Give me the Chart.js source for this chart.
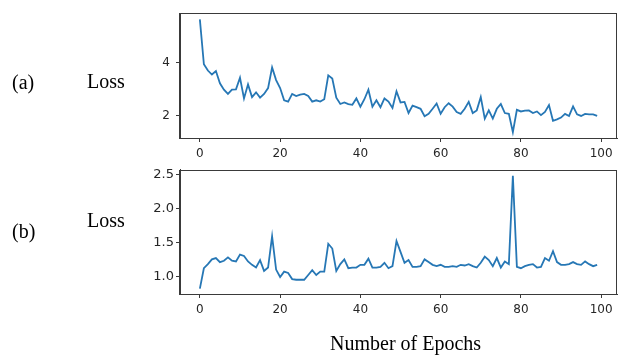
<!DOCTYPE html>
<html>
<head>
<meta charset="utf-8">
<script src="https://cdn.jsdelivr.net/npm/chart.js@4"></script>
<style>
  html, body { margin:0; padding:0; background:#fff; width:624px; height:356px; overflow:hidden; }
  #wrap { position:relative; width:624px; height:356px; }
  canvas { position:absolute; left:0; }
  .lbl { position:absolute; font-family:"Liberation Serif","Times New Roman",serif; font-size:20px; color:#000; line-height:1; white-space:nowrap; }
</style>
</head>
<body>
<div id="wrap">
  <canvas id="c1" width="624" height="160" style="top:0px"></canvas>
  <canvas id="c2" width="624" height="175" style="top:160px"></canvas>
  <div class="lbl" style="left:12px; top:72px;">(a)</div>
  <div class="lbl" style="left:87px; top:71px;">Loss</div>
  <div class="lbl" style="left:12px; top:221px;">(b)</div>
  <div class="lbl" style="left:87px; top:210px;">Loss</div>
  <div class="lbl" style="left:330px; top:333px;">Number of Epochs</div>
</div>
<script>
const epochTicks = [0, 20, 40, 60, 80, 100];
const lossTicksA = [2, 4];
const lossTicksB = [1.0, 1.5, 2.0, 2.5];

const lossA = [
  5.64,3.95,3.71,3.56,3.69,3.23,2.99,2.83,2.99,3.00,
  3.44,2.66,3.19,2.71,2.89,2.69,2.83,3.05,3.83,3.35,
  3.05,2.59,2.54,2.83,2.75,2.80,2.83,2.75,2.54,2.59,
  2.54,2.63,3.53,3.41,2.69,2.45,2.51,2.45,2.42,2.66,
  2.35,2.63,2.99,2.35,2.59,2.33,2.66,2.54,2.30,2.93,
  2.51,2.53,2.11,2.39,2.33,2.27,1.99,2.08,2.27,2.47,
  2.08,2.33,2.48,2.35,2.15,2.08,2.27,2.53,2.11,2.21,
  2.71,1.90,2.21,1.90,2.27,2.45,2.11,2.08,1.39,2.23,
  2.17,2.20,2.21,2.11,2.17,2.03,2.15,2.41,1.82,1.87,
  1.94,2.08,2.00,2.36,2.06,2.00,2.08,2.06,2.06,2.00
];

const lossB = [
  0.82,1.12,1.18,1.25,1.27,1.21,1.23,1.28,1.23,1.22,
  1.32,1.30,1.22,1.17,1.13,1.24,1.08,1.13,1.59,1.10,
  0.99,1.07,1.05,0.96,0.95,0.95,0.95,1.02,1.09,1.02,
  1.07,1.07,1.48,1.41,1.08,1.18,1.25,1.12,1.13,1.13,
  1.17,1.17,1.26,1.13,1.13,1.14,1.20,1.12,1.15,1.52,
  1.36,1.20,1.24,1.14,1.14,1.15,1.25,1.21,1.17,1.15,
  1.17,1.14,1.14,1.15,1.14,1.17,1.16,1.18,1.15,1.13,
  1.20,1.29,1.24,1.15,1.27,1.13,1.22,1.18,2.48,1.14,
  1.12,1.15,1.17,1.18,1.13,1.14,1.27,1.23,1.37,1.21,
  1.17,1.17,1.18,1.21,1.18,1.17,1.22,1.18,1.15,1.17
];

const frame = {
  id: 'frame',
  afterDraw(chart) {
    const a = chart.chartArea, ctx = chart.ctx;
    ctx.save();
    ctx.strokeStyle = '#3a3a3a';
    ctx.lineWidth = 1;
    ctx.strokeRect(Math.round(a.left) - 0.5, Math.round(a.top) + 0.5, Math.round(a.right - a.left), Math.round(a.bottom - a.top));
    ctx.restore();
  }
};

function makeChart(id, values, yTicks, yMin, yMax, xAxisH, padTop, yLabelPad, ySize, fmt) {
  return new Chart(document.getElementById(id), {
    type: 'line',
    data: {
      datasets: [{
        data: values.map((v, i) => ({ x: i, y: v })),
        borderColor: '#2677b5',
        borderWidth: 1.8,
        pointRadius: 0,
        tension: 0,
        fill: false
      }]
    },
    options: {
      responsive: false,
      animation: false,
      devicePixelRatio: 1,
      layout: { padding: { left: 0, right: 7, top: padTop, bottom: 0 } },
      plugins: { legend: { display: false }, tooltip: { enabled: false } },
      scales: {
        x: {
          type: 'linear',
          min: -4.95, max: 103.95,
          afterBuildTicks: s => { s.ticks = epochTicks.map(v => ({ value: v })); },
          afterFit: s => { s.height = xAxisH; },
          grid: { drawOnChartArea: false, drawTicks: true, tickLength: 4, tickColor: '#3a3a3a' },
          border: { display: true, color: '#3a3a3a', width: 1 },
          ticks: { color: '#262626', font: { family: 'DejaVu Sans', size: 12 }, padding: 5, maxRotation: 0, autoSkip: false, callback: v => String(v) }
        },
        y: {
          min: yMin, max: yMax,
          afterBuildTicks: s => { s.ticks = yTicks.map(v => ({ value: v })); },
          afterFit: s => { s.width = 180; },
          grid: { drawOnChartArea: false, drawTicks: true, tickLength: 4, tickColor: '#3a3a3a' },
          border: { display: true, color: '#3a3a3a', width: 1 },
          ticks: { color: '#262626', font: { family: 'DejaVu Sans', size: ySize }, padding: yLabelPad, autoSkip: false, callback: fmt }
        }
      }
    },
    plugins: [frame]
  });
}

makeChart('c1', lossA, lossTicksA, 1.17, 5.87, 22, 7, 6, 12, v => String(v));
makeChart('c2', lossB, lossTicksB, 0.74, 2.57, 41, 5, 2, 13, v => v.toFixed(1));
</script>
</body>
</html>
